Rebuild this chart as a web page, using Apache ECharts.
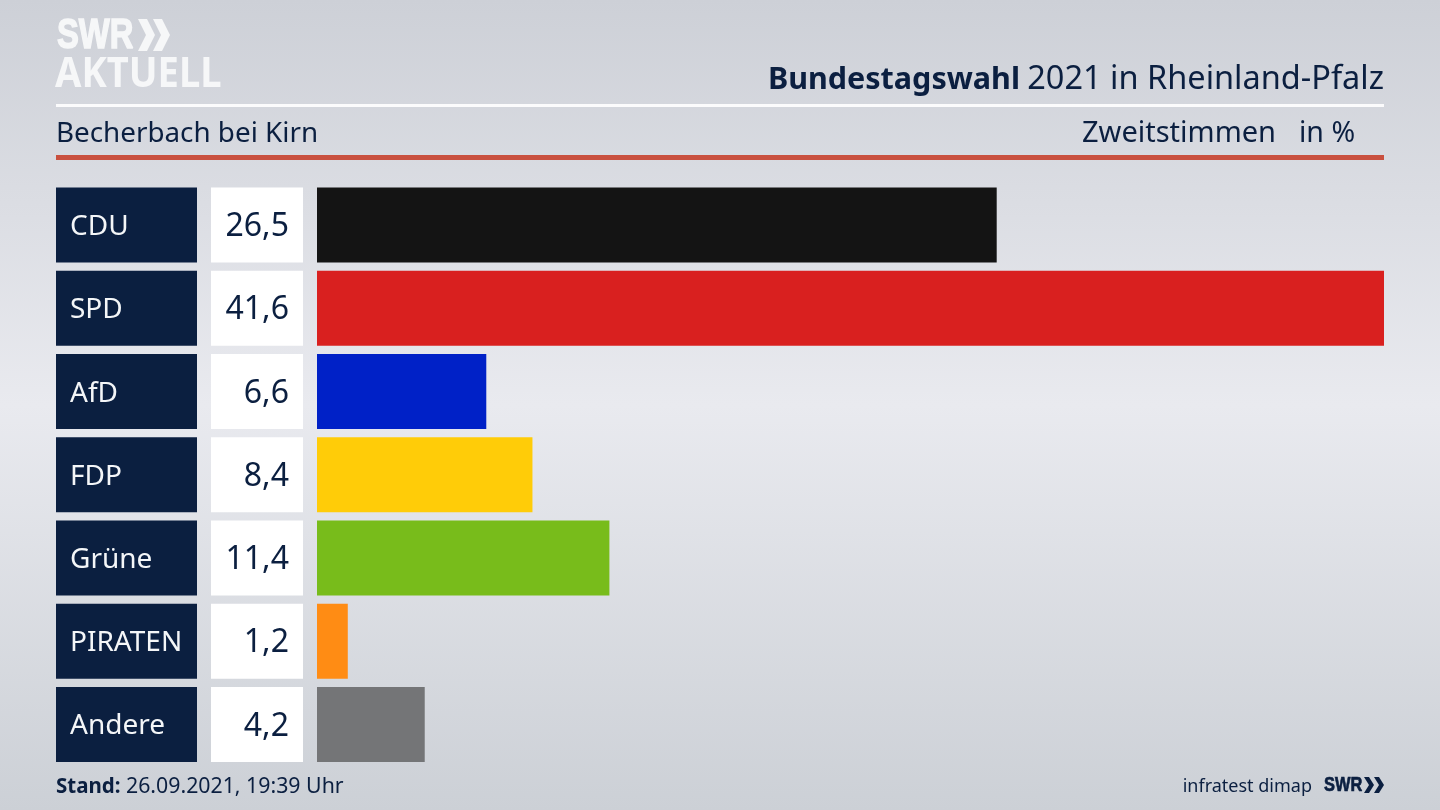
<!DOCTYPE html>
<html><head><meta charset="utf-8">
<style>html,body{margin:0;padding:0;width:1440px;height:810px;overflow:hidden}#c{width:1440px;height:810px}</style>
<script src="https://cdn.jsdelivr.net/npm/echarts@6/dist/echarts.min.js"></script>
</head><body><div id="c"></div>
<script>
const parties = ['CDU','SPD','AfD','FDP','Grüne','PIRATEN','Andere'];
const values = [26.5,41.6,6.6,8.4,11.4,1.2,4.2];
const barColors = ['#141414','#d9201f','#0021c7','#ffcc08','#78bc1b','#ff8c14','#747577'];
const navy = '#0b1f40';
const logo = '#f6f7f8';
const font = '"Noto Sans"';
const fmt = v => v.toFixed(1).replace('.',',');
const chev = (x,y,w,h,t,c) => ({type:'polygon',shape:{points:[[x,y],[x+t,y],[x+t+w,y+h/2],[x+t,y+h],[x,y+h],[x+w,y+h/2]]},style:{fill:c}});
const label = (x,y,text,size,extra) => ({type:'text',style:Object.assign({x,y,verticalAlign:'middle',text,fontFamily:font,fontSize:size,fill:navy},extra||{})});
const chart = echarts.init(document.getElementById('c'),null,{renderer:'canvas'});
chart.setOption({
  animation:false,
  backgroundColor:{type:'linear',x:0,y:0,x2:0,y2:1,colorStops:[
    {offset:0,color:'#cdd0d7'},{offset:.5,color:'#e9eaef'},{offset:1,color:'#ccd0d6'}]},
  grid:{left:317,right:56,top:183.5,height:582.5},
  xAxis:{type:'value',min:0,max:41.6,show:false},
  yAxis:[
    {type:'category',inverse:true,data:values.map(fmt),position:'left',
     axisLine:{show:false},axisTick:{show:false},
     axisLabel:{margin:14,align:'right',width:78,height:71,lineHeight:71,padding:[4,14,0,0],backgroundColor:'#fff',
       color:navy,fontFamily:font,fontSize:32,formatter:v=>'{t|'+v+'}',
       rich:{t:{fontFamily:font,fontSize:32,color:navy,lineHeight:71}}}},
    {type:'category',inverse:true,data:parties,position:'left',
     axisLine:{show:false},axisTick:{show:false},
     axisLabel:{margin:261,align:'left',width:127,height:71,lineHeight:71,padding:[4,0,0,14],backgroundColor:navy,
       color:'#f4f6f8',fontFamily:font,fontSize:28,formatter:v=>'{t|'+v+'}',
       rich:{t:{fontFamily:font,fontSize:28,color:'#f4f6f8',lineHeight:71}}}}
  ],
  series:[{type:'bar',yAxisIndex:0,barWidth:75,silent:true,
    data:values.map((v,i)=>({value:v,itemStyle:{color:barColors[i]}}))}],
  graphic:[
    {type:'rect',shape:{x:56,y:104,width:1328,height:3},style:{fill:'#fbfbfc'}},
    {type:'rect',shape:{x:56,y:155,width:1328,height:5},style:{fill:'#c9503f'}},
    label(1020,80,'Bundestagswahl',30.5,{align:'right',fontWeight:'bold'}),
    label(1384,80,'2021 in Rheinland-Pfalz',32.5,{align:'right'}),
    label(56,134,'Becherbach bei Kirn',27.8),
    label(1082,134,'Zweitstimmen',29),
    label(1299,134,'in %',28.5),
    label(56,787,'Stand:',20.5,{fontWeight:'bold'}),
    label(126,787,'26.09.2021, 19:39 Uhr',21.3),
    label(1312,787,'infratest dimap',18,{align:'right'}),
    {type:'text',x:1324,y:785,scaleX:.78,style:{x:0,y:0,verticalAlign:'middle',text:'SWR',fontFamily:'"Liberation Sans"',fontWeight:'bold',fontSize:21,fill:navy,stroke:navy,lineWidth:.7}},
    chev(1364,777,5,16,5,navy),
    chev(1374,777,5,16,5,navy),
    {type:'text',x:57,y:36,scaleX:.78,style:{x:0,y:0,verticalAlign:'middle',text:'SWR',fontFamily:'"Liberation Sans"',fontWeight:'bold',fontSize:42,fill:logo,stroke:logo,lineWidth:1.5}},
    chev(138,19,8,32,9,logo),
    chev(153,19,8,32,9,logo),
    {type:'text',x:55,y:75,scaleX:.93,style:{x:0,y:0,verticalAlign:'middle',text:'AKTUELL',fontFamily:font,fontWeight:'bold',fontSize:41,fill:logo}}
  ]
});
</script></body></html>
